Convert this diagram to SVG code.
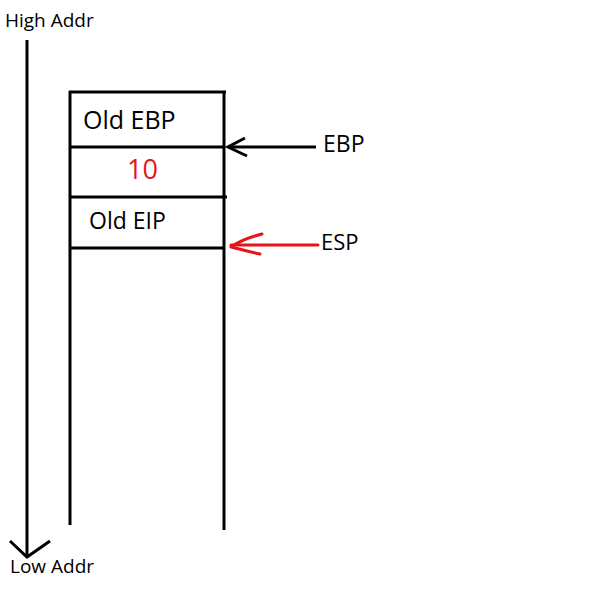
<svg xmlns="http://www.w3.org/2000/svg" width="600" height="600" viewBox="0 0 600 600">
<style>
.ln{stroke:#000;stroke-width:3;fill:none;stroke-linecap:butt}
.rd{stroke:#e8141a;stroke-width:3;fill:none;stroke-linecap:round;stroke-linejoin:round}
text{font-family:"Open Sans","Noto Sans",sans-serif;fill:#000}
</style>
<rect width="600" height="600" fill="#fff"/>
<g id="axis">
<line class="ln" x1="27" y1="40" x2="27" y2="557"/>
<polyline class="ln" points="10,541 27,557 50,541"/>
<text x="5" y="27" font-size="19">High Addr</text>
<text x="10" y="573" font-size="19">Low Addr</text>
</g>
<g id="stack">
<line class="ln" x1="70" y1="91" x2="70" y2="525"/>
<line class="ln" x1="224" y1="91" x2="224" y2="530"/>
<line class="ln" x1="69" y1="92" x2="226" y2="92"/>
<line class="ln" x1="70" y1="147" x2="224" y2="147"/>
<line class="ln" x1="70" y1="197" x2="227" y2="197"/>
<line class="ln" x1="70" y1="248" x2="224" y2="248"/>
</g>
<g id="old-ebp"><text x="83" y="129" font-size="25">Old EBP</text></g>
<g id="value-10"><text x="127" y="179" font-size="27" style="fill:#e8141a">10</text></g>
<g id="old-eip"><text x="89" y="229" font-size="23">Old EIP</text></g>
<g id="ebp-label"><text x="323" y="152" font-size="23">EBP</text></g>
<g id="esp-label"><text x="321" y="250" font-size="22">ESP</text></g>
<g id="connectors">
<line class="ln" x1="316" y1="147" x2="228" y2="147"/>
<polyline class="ln" points="245,138 228,147 247,156" stroke-linecap="round"/>
<line class="rd" x1="318" y1="245" x2="231" y2="245"/>
<path class="rd" d="M262,234 C250,237 238,242 231,247 C240,249 250,252 260,254"/>
</g>
</svg>
